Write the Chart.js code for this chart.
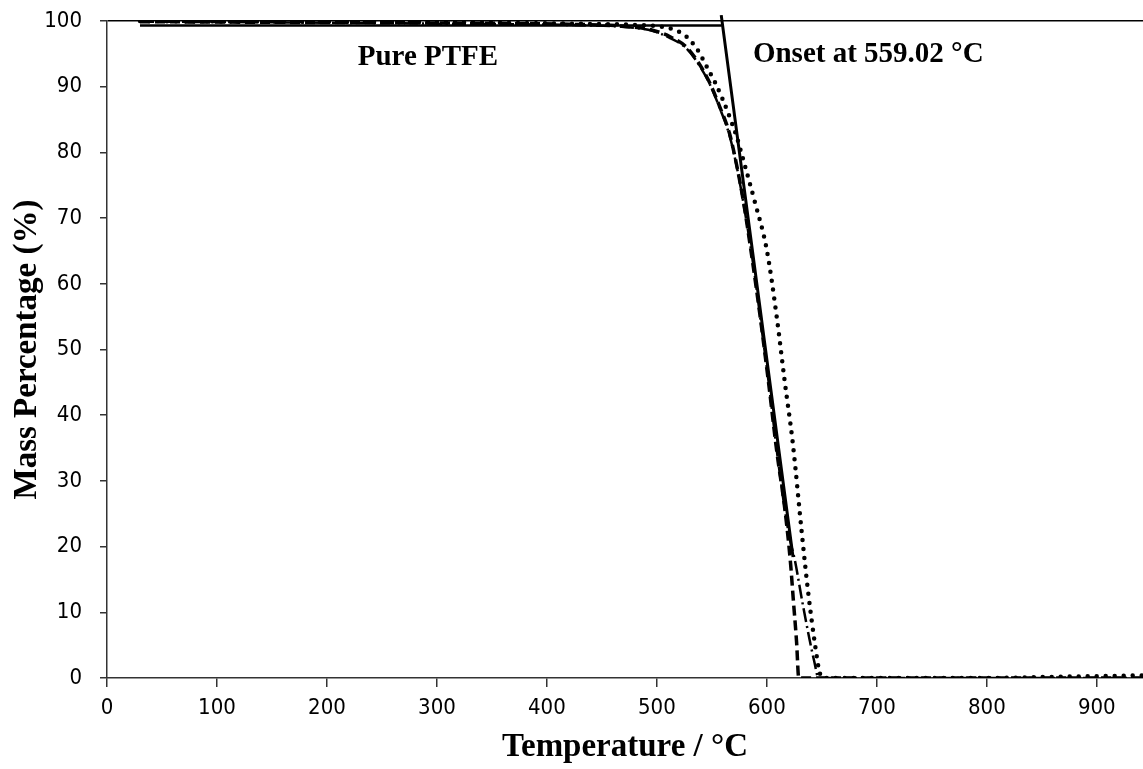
<!DOCTYPE html>
<html>
<head>
<meta charset="utf-8">
<script src="https://cdn.jsdelivr.net/npm/chart.js@4.4.1/dist/chart.umd.min.js"></script>
<style>
  html, body { margin:0; padding:0; background:#fff; }
</style>
</head>
<body>
<canvas id="tga" width="1143" height="769"></canvas>
<script>
// TGA curves (temperature °C / mass %)
const tempDashed = [30, 150, 300, 420, 470, 496, 512, 527, 538, 548, 557, 566, 572, 578, 586, 593.5, 601.5, 609, 616.5, 621.5, 624, 627, 629, 700, 800, 942];
const massDashed = [99.9, 99.8, 99.7, 99.5, 99.2, 98.6, 97.6, 96.0, 93.6, 90.6, 87.0, 82.9, 78.5, 73.2, 64.5, 55.5, 45.0, 34.5, 25.5, 17.5, 12.0, 5.5, 0, 0, 0, 0];

const tempDashDot = [30, 150, 300, 420, 470, 496, 512, 527, 538, 548, 557, 566, 573, 580, 588, 595, 602, 609.5, 616, 621, 625.5, 632, 639, 643, 647, 700, 800, 942];
const massDashDot = [99.9, 99.8, 99.6, 99.4, 99.1, 98.5, 97.4, 95.8, 93.4, 90.4, 86.8, 82.6, 77.5, 71.0, 62.5, 53.5, 44.5, 34.0, 26.0, 21.0, 17.9, 11.8, 5.7, 2.6, 0, 0, 0, 0];

const tempDotted = [30, 150, 300, 420, 480, 505, 517, 527, 537, 545.5, 553, 560, 567, 572.7, 578, 582, 589, 600, 609, 616.4, 623.6, 631.8, 637.3, 643.6, 648.2, 652, 700, 800, 870, 910, 942];
const massDotted = [100, 99.9, 99.8, 99.6, 99.4, 99.1, 98.6, 97.6, 95.6, 93.0, 90.6, 88.0, 85.0, 82.3, 79.2, 76.8, 72.5, 65.1, 54.9, 44.9, 35.7, 22.0, 13.4, 5.3, 0.7, 0, 0, 0, 0.2, 0.3, 0.4];

// onset construction lines
const baseTemp = [30, 559];
const baseMass = [99.3, 99.3];
const tanTemp  = [558.5, 623.8];
const tanMass  = [100.9, 18.4];

const xTicksMax = 942;
const yTicksMax = 100;

const noteText = ['Pure PTFE', 'Onset at 559.02 °C'];
const noteTemp = [228, 587.3];
const noteMass = [93.3, 93.75];

const pts = (xs, ys) => xs.map((x, i) => ({x, y: ys[i]}));

const notes = {
  id: 'notes',
  afterDatasetsDraw(chart) {
    const {ctx, scales: {x, y}} = chart;
    ctx.save();
    ctx.font = 'bold 29px "Liberation Serif"';
    ctx.fillStyle = '#000';
    ctx.textBaseline = 'alphabetic';
    noteText.forEach((t, i) => {
      ctx.fillText(t, x.getPixelForValue(noteTemp[i]), y.getPixelForValue(noteMass[i]));
    });
    ctx.restore();
  }
};

const lineBase = {
  pointRadius: 0,
  borderColor: '#000',
  fill: false,
  cubicInterpolationMode: 'monotone'
};

const tickFont = { family: "'DejaVu Sans Condensed', 'DejaVu Sans'", size: 22 };
const titleFont = { family: "'Liberation Serif'", size: 33, weight: 'bold' };

new Chart(document.getElementById('tga'), {
  type: 'line',
  data: {
    datasets: [
      { ...lineBase, data: pts(tempDotted, massDotted), borderWidth: 4.5, borderDash: [0, 9], borderCapStyle: 'round' },
      { ...lineBase, data: pts(tempDashDot, massDashDot), borderWidth: 2.5, borderDash: [14, 4, 2, 4] },
      { ...lineBase, data: pts(tempDashed, massDashed), borderWidth: 3.5, borderDash: [10, 5] },
      { ...lineBase, data: pts(baseTemp, baseMass), borderWidth: 2.5 },
      { ...lineBase, data: pts(tanTemp, tanMass), borderWidth: 3, clip: false }
    ]
  },
  options: {
    responsive: false,
    animation: false,
    layout: { padding: { top: 21, right: 0, bottom: 0, left: 0 } },
    plugins: { legend: { display: false }, tooltip: { enabled: false } },
    scales: {
      x: {
        type: 'linear',
        min: 0,
        max: xTicksMax,
        afterFit: s => { s.height = 91; s.paddingRight = 0; },
        border: { display: true, color: '#333', width: 1.5 },
        grid: { drawOnChartArea: false, tickLength: 9, tickColor: '#333', lineWidth: 1.5 },
        ticks: { stepSize: 100, includeBounds: false, color: '#000', font: tickFont, padding: 8, maxRotation: 0 },
        title: { display: true, text: 'Temperature / °C', color: '#000', font: titleFont, padding: { top: 0, bottom: 2 } }
      },
      y: {
        min: 0,
        max: yTicksMax,
        // keep the label padding from pushing the plot down
        afterFit: s => { s.width = 107; s.paddingTop = 0; s.paddingBottom = 0; },
        border: { display: true, color: '#333', width: 1.5 },
        grid: {
          color: c => c.tick && c.tick.value === 100 ? '#000' : 'rgba(0,0,0,0)',
          lineWidth: 1.5,
          tickLength: 7,
          tickColor: '#333'
        },
        ticks: { stepSize: 10, color: '#000', font: tickFont, padding: 18 },
        title: { display: true, text: 'Mass Percentage (%)', color: '#000', font: titleFont, padding: { top: 8, bottom: 0 } }
      }
    }
  },
  plugins: [notes]
});
</script>
</body>
</html>
